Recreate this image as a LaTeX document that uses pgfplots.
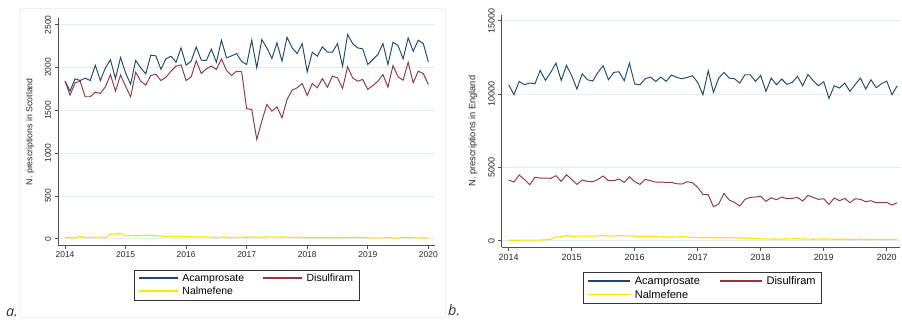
\documentclass[border=0pt]{standalone}
\usepackage{fontspec}
\setmainfont{Liberation Sans}
\newfontfamily\labfont{Open Sans}
\usepackage{pgfplots}
\usepackage{pgfplotstable}
\pgfplotsset{compat=1.18}

\definecolor{aca}{RGB}{30,74,114}
\definecolor{dis}{RGB}{148,54,60}
\definecolor{nal}{RGB}{255,226,0}
\definecolor{gridc}{RGB}{228,238,242}
\definecolor{axc}{RGB}{80,80,80}
\definecolor{framec}{RGB}{236,241,245}

\pgfplotstableread{
i aca dis nal
0 1840 1840 10
1 1725 1677 12
2 1868 1821 8
3 1848 1840 28
4 1875 1658 15
5 1848 1658 15
6 2027 1712 18
7 1848 1697 18
8 1996 1774 10
9 2090 1918 55
10 1870 1724 52
11 2117 1911 62
12 1938 1782 32
13 1805 1658 36
14 2082 1946 34
15 1996 1840 35
16 1926 1794 40
17 2144 1907 40
18 2136 1922 34
19 1980 1848 30
20 2101 1887 26
21 2132 1957 30
22 2062 2016 22
23 2230 2031 30
24 2027 1848 22
25 2074 1891 22
26 2241 2078 20
27 2086 1930 22
28 2082 1984 20
29 2214 2016 18
30 2062 1977 14
31 2319 2101 20
32 2113 1965 20
33 2136 1907 12
34 2163 1957 18
35 2070 1950 18
36 2035 1518 16
37 2319 1510 20
38 1996 1160 20
39 2327 1374 18
40 2229 1568 20
41 2105 1490 22
42 2288 1541 18
43 2074 1412 20
44 2354 1626 18
45 2229 1735 15
46 2163 1763 16
47 2280 1813 18
48 1949 1673 10
49 2179 1813 12
50 2132 1763 10
51 2241 1871 12
52 2179 1770 10
53 2179 1899 12
54 2280 1879 8
55 2015 1755 12
56 2385 2008 14
57 2280 1879 12
58 2229 1840 14
59 2218 1860 12
60 2035 1743 10
61 2093 1790 8
62 2152 1840 10
63 2280 1918 10
64 2035 1770 12
65 2295 2023 8
66 2257 1891 6
67 2101 1852 15
68 2346 2062 12
69 2190 1821 10
70 2319 1957 10
71 2280 1930 8
72 2066 1801 8
}\scot

\pgfplotstableread{
i aca dis nal
0 10636 4136 30
1 9955 4000 30
2 10864 4477 35
3 10636 4182 35
4 10750 3818 35
5 10705 4318 40
6 11614 4273 45
7 10932 4273 60
8 11477 4250 100
9 12114 4432 250
10 10932 4045 270
11 11955 4500 350
12 11250 4182 300
13 10341 3841 310
14 11386 4136 310
15 10977 4045 320
16 10886 4023 310
17 11477 4182 320
18 11932 4409 370
19 10977 4091 310
20 11477 4091 320
21 11523 4205 350
22 10909 3977 330
23 12114 4364 330
24 10682 4023 310
25 10636 3841 280
26 11045 4182 280
27 11159 4091 280
28 10864 4000 270
29 11159 4000 260
30 10864 3977 250
31 11295 3977 260
32 11136 3886 240
33 11045 3864 300
34 11136 4023 250
35 11250 3955 230
36 10795 3636 220
37 9955 3159 200
38 11591 3136 230
39 10114 2318 180
40 11091 2500 200
41 11477 3227 210
42 11091 2773 200
43 11045 2614 190
44 10750 2364 180
45 11318 2818 170
46 11318 2955 170
47 10864 2977 160
48 11273 3023 130
49 10182 2682 120
50 11091 2932 120
51 10636 2795 110
52 11023 2977 110
53 10659 2864 120
54 10795 2886 130
55 11205 2955 130
56 10568 2705 120
57 11341 3091 110
58 10909 2955 100
59 10568 2818 110
60 10841 2864 120
61 9705 2477 110
62 10568 2909 100
63 10409 2727 100
64 10750 2886 100
65 10182 2591 80
66 10659 2864 90
67 11091 2818 100
68 10341 2659 90
69 10977 2727 80
70 10432 2591 80
71 10705 2591 90
72 10886 2614 80
73 9955 2432 90
74 10568 2591 90
}\engl

\pgfplotsset{
  stata/.style={
    scale only axis,
    axis x line*=bottom, axis y line*=left,
    axis line style={axc, line width=0.7bp, -},
    tick align=outside, major tick length=3.5bp,
    tick style={axc, line width=0.6bp},
    ymajorgrids, grid style={gridc, line width=0.7bp},
    xtick={2014,2015,2016,2017,2018,2019,2020},
    scaled y ticks=false, scaled x ticks=false,
    /pgf/number format/1000 sep={},
    /pgf/number format/assume math mode=true,
    ticklabel style={color=black!85},
    yticklabel style={rotate=90, anchor=south},
    xticklabel style={anchor=north},
    every axis y label/.style={rotate=90, anchor=center, color=black!85},
    legend columns=2,
    legend cell align=left,
    legend style={draw=black!80, line width=0.6bp, anchor=center, fill=white},
    every axis plot/.append style={line width=0.95bp, mark=none},
  },
}

\begin{document}
\begin{tikzpicture}[x=1bp,y=1bp]
\useasboundingbox (0,0) rectangle (902,320);
\draw[framec, line width=0.7bp] (20,3) rectangle (445,312);

% ---------- panel a: Scotland ----------
\begin{axis}[stata,
  at={(58bp,75bp)}, anchor=south west,
  width=377bp, height=226.7bp,
  xmin=2013.884, xmax=2020.110,
  ymin=-74, ymax=2575,
  ytick={0,500,1000,1500,2000,2500},
  ticklabel style={font=\fontsize{8.5}{10}\selectfont},
  ylabel={N. prescriptions in Scotland},
  ylabel style={at={(axis description cs:-0.0743,0.5)}, font=\fontsize{8.8}{10}\selectfont},
  legend style={at={(0.5,-0.176)}, font=\fontsize{10.5}{12}\selectfont,
    inner xsep=4bp, inner ysep=2bp,
    /tikz/every even column/.append style={column sep=16bp},
    /tikz/every odd column/.append style={column sep=2bp}},
  legend image code/.code={\draw[#1, line width=1.6bp] (0bp,0.5bp) -- (39bp,0.5bp);},
]
\addplot[aca] table[x expr=2014+\thisrow{i}/12, y=aca] {\scot};
\addlegendentry{Acamprosate}
\addplot[dis] table[x expr=2014+\thisrow{i}/12, y=dis] {\scot};
\addlegendentry{Disulfiram}
\addplot[nal, line width=1.1bp] table[x expr=2014+\thisrow{i}/12, y=nal] {\scot};
\addlegendentry{Nalmefene}
\end{axis}

% ---------- panel b: England ----------
\begin{axis}[stata,
  at={(501.7bp,72.7bp)}, anchor=south west,
  width=398.3bp, height=232.3bp,
  xmin=2013.889, xmax=2020.211,
  ymin=-450, ymax=15392,
  ytick={0,5000,10000,15000},
  ticklabel style={font=\fontsize{9}{10}\selectfont},
  ylabel={N. prescriptions in England},
  ylabel style={at={(axis description cs:-0.072,0.5)}, font=\fontsize{9.3}{10}\selectfont},
  legend style={at={(0.504,-0.176)}, font=\fontsize{11.1}{12}\selectfont,
    inner xsep=4bp, inner ysep=2bp,
    /tikz/every even column/.append style={column sep=17bp},
    /tikz/every odd column/.append style={column sep=2bp}},
  legend image code/.code={\draw[#1, line width=1.6bp] (0bp,0.5bp) -- (42bp,0.5bp);},
]
\addplot[aca] table[x expr=2014+\thisrow{i}/12, y=aca] {\engl};
\addlegendentry{Acamprosate}
\addplot[dis] table[x expr=2014+\thisrow{i}/12, y=dis] {\engl};
\addlegendentry{Disulfiram}
\addplot[nal, line width=1.1bp] table[x expr=2014+\thisrow{i}/12, y=nal] {\engl};
\addlegendentry{Nalmefene}
\end{axis}

\node[anchor=base west, inner sep=0pt, font=\labfont\itshape\fontsize{14.5}{16}\selectfont, color=black!80] at (6,4) {a.};
\node[anchor=base west, inner sep=0pt, font=\labfont\itshape\fontsize{14.5}{16}\selectfont, color=black!80] at (448,5) {b.};
\end{tikzpicture}
\end{document}
